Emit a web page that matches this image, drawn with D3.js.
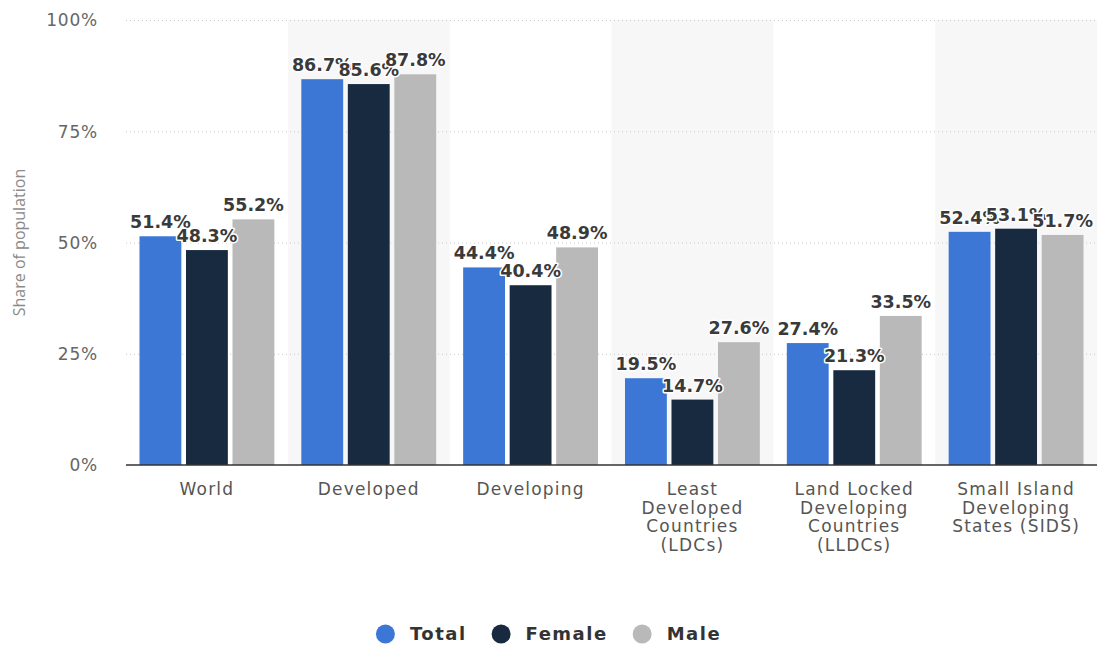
<!DOCTYPE html>
<html>
<head>
<meta charset="utf-8">
<script src="https://cdn.jsdelivr.net/npm/d3@7/dist/d3.min.js"></script>
<style>
  body { margin: 0; background: #fff; }
  svg { display: block; }
  .grid line { stroke: #c8c8c8; stroke-dasharray: 1,3; }
  .grid text { font-family: "DejaVu Sans", sans-serif; font-size: 17px; fill: #666; letter-spacing: 0.8px; }
  .xaxis text { font-family: "DejaVu Sans", sans-serif; font-size: 17px; fill: #555; letter-spacing: 1.2px; }
  .value { font-family: "DejaVu Sans", sans-serif; font-size: 17.5px; font-weight: bold; fill: #3a3a3a;
           stroke: #fff; stroke-width: 3px; paint-order: stroke; stroke-linejoin: round; }
  .legend text { font-family: "DejaVu Sans", sans-serif; font-size: 18px; font-weight: bold; fill: #333; letter-spacing: 1.5px; }
  .ytitle { font-family: "Open Sans", sans-serif; font-size: 16px; fill: #8a8a8a; }
</style>
</head>
<body>
<svg width="1097" height="646"></svg>
<script>
var categories = ["World", "Developed", "Developing",
  "Least Developed Countries (LDCs)",
  "Land Locked Developing Countries (LLDCs)",
  "Small Island Developing States (SIDS)"];
var categoryLines = [
  ["World"], ["Developed"], ["Developing"],
  ["Least", "Developed", "Countries", "(LDCs)"],
  ["Land Locked", "Developing", "Countries", "(LLDCs)"],
  ["Small Island", "Developing", "States (SIDS)"]
];
var seriesNames = ["Total", "Female", "Male"];
var seriesColors = ["#3c77d6", "#172a40", "#b9b9b9"];
var totalValues  = [51.4, 86.7, 44.4, 19.5, 27.4, 52.4];
var femaleValues = [48.3, 85.6, 40.4, 14.7, 21.3, 53.1];
var maleValues   = [55.2, 87.8, 48.9, 27.6, 33.5, 51.7];
var yTicks = [0, 25, 50, 75, 100];

var seriesValues = [totalValues, femaleValues, maleValues];

var svg = d3.select("svg");
var width = +svg.attr("width");
var height = +svg.attr("height");
var margin = {top: 20, right: 0, bottom: 181, left: 126};
var plotW = width - margin.left - margin.right;
var plotH = height - margin.top - margin.bottom;

var g = svg.append("g").attr("transform", "translate(" + margin.left + "," + margin.top + ")");

var x0 = d3.scaleBand().domain(categories).range([0, plotW]).padding(0);
var x1 = d3.scaleBand().domain(seriesNames).range([0, x0.bandwidth()])
    .paddingInner(0.1).paddingOuter(0.29);
var y = d3.scaleLinear().domain([0, 100]).range([plotH, 0]);

// alternating background bands
g.append("g").selectAll("rect")
    .data(categories.filter(function(d, i) { return i % 2 == 1; }))
  .enter().append("rect")
    .attr("x", function(d) { return x0(d); })
    .attr("y", 0)
    .attr("width", x0.bandwidth())
    .attr("height", plotH)
    .attr("fill", "#f7f7f7");

// gridlines + y tick labels
var yAxis = g.append("g").attr("class", "grid")
    .call(d3.axisLeft(y).tickValues(yTicks).tickSize(-plotW).tickPadding(28)
      .tickFormat(function(d) { return d + "%"; }));
yAxis.select(".domain").remove();
yAxis.selectAll("line").filter(function(d) { return d == 0; }).remove();
yAxis.selectAll("text").attr("dy", "0.35em");

svg.append("text")
    .attr("class", "ytitle")
    .attr("transform", "translate(25," + (margin.top + y(50)) + ") rotate(-90)")
    .attr("text-anchor", "middle")
    .text("Share of population");

// bars
var rows = categories.map(function(c, i) {
  return {cat: c, vals: seriesNames.map(function(s, j) { return {series: s, idx: j, value: seriesValues[j][i]}; })};
});

var groups = g.append("g").selectAll("g")
    .data(rows)
  .enter().append("g")
    .attr("transform", function(d) { return "translate(" + x0(d.cat) + ",0)"; });

groups.selectAll("rect")
    .data(function(d) { return d.vals; })
  .enter().append("rect")
    .attr("x", function(d) { return x1(d.series); })
    .attr("y", function(d) { return y(d.value); })
    .attr("width", x1.bandwidth())
    .attr("height", function(d) { return plotH - y(d.value); })
    .attr("fill", function(d) { return seriesColors[d.idx]; });

// value labels, drawn series by series so later ones sit on top
seriesNames.forEach(function(s, j) {
  g.append("g").selectAll("text")
      .data(rows)
    .enter().append("text")
      .attr("class", "value")
      .attr("x", function(d) { return x0(d.cat) + x1(s) + x1.bandwidth() / 2; })
      .attr("y", function(d) { return y(d.vals[j].value) - 8; })
      .attr("text-anchor", "middle")
      .text(function(d) { return d.vals[j].value.toFixed(1) + "%"; });
});

// baseline
g.append("line")
    .attr("x1", 0).attr("x2", plotW)
    .attr("y1", y(0)).attr("y2", y(0))
    .attr("stroke", "#333").attr("stroke-width", 1.5);

// category labels
var xAxis = g.append("g").attr("class", "xaxis")
    .attr("transform", "translate(0," + plotH + ")")
    .call(d3.axisBottom(x0).tickSize(0).tickFormat(""));
xAxis.select(".domain").remove();
xAxis.selectAll(".tick").each(function(d, i) {
  var t = d3.select(this).select("text").text(null).attr("y", 0).attr("dy", null);
  categoryLines[i].forEach(function(line, k) {
    t.append("tspan").attr("x", 0).attr("y", 30 + k * 18.7).text(line);
  });
});

// legend
var legend = svg.append("g").attr("class", "legend");
var items = legend.selectAll("g")
    .data(seriesNames)
  .enter().append("g");
items.append("circle").attr("r", 9.5).attr("cx", 9.5).attr("cy", 0)
    .attr("fill", function(d, i) { return seriesColors[i]; });
items.append("text").attr("x", 34).attr("y", 0).attr("dy", "0.35em").text(function(d) { return d; });
var offset = 0;
items.each(function() {
  var w = this.getBBox().width;
  d3.select(this).attr("transform", "translate(" + offset + ",0)");
  offset += w + 25;
});
offset -= 25;
legend.attr("transform", "translate(" + (width / 2 - offset / 2) + ",634)");
</script>
</body>
</html>
